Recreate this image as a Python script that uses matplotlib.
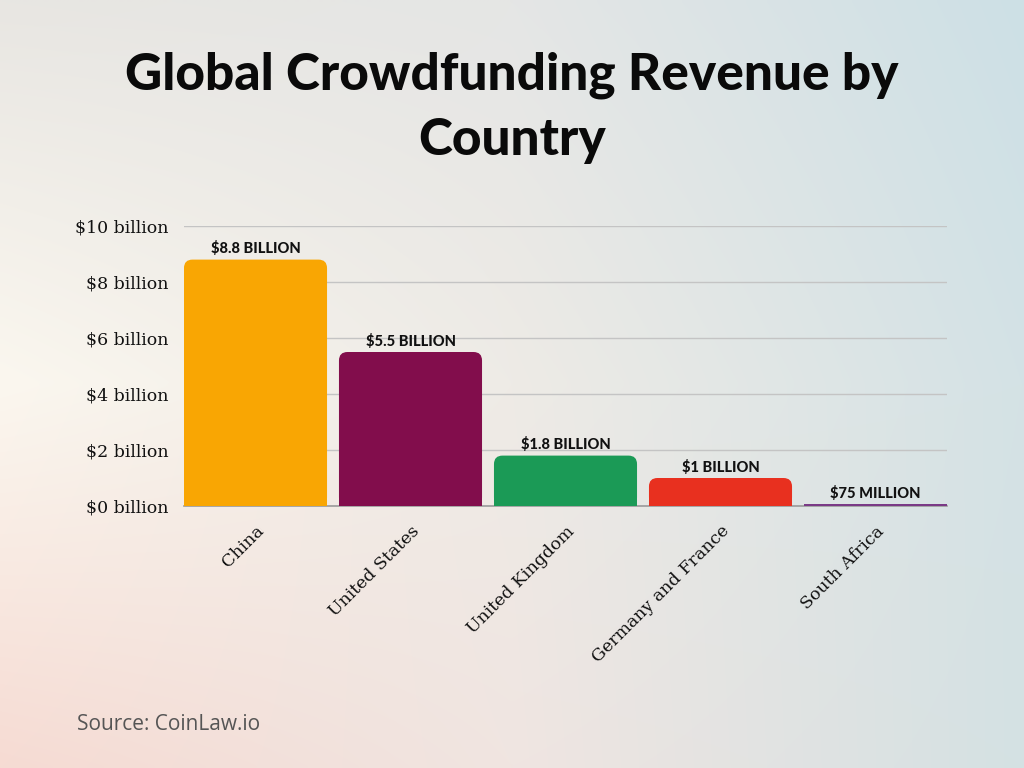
import numpy as np
import matplotlib
matplotlib.use("Agg")
import matplotlib.pyplot as plt
from matplotlib.patches import FancyBboxPatch, Rectangle
from matplotlib.colors import to_rgb

countries = ["China", "United States", "United Kingdom", "Germany and France", "South Africa"]
revenue_billion = [8.8, 5.5, 1.8, 1.0, 0.075]
value_labels = ["$8.8 BILLION", "$5.5 BILLION", "$1.8 BILLION", "$1 BILLION", "$75 MILLION"]
bar_colors = ["#F9A603", "#820D4C", "#1B9A56", "#E8301F", "#7A3A86"]
y_ticks = [0, 2, 4, 6, 8, 10]
y_tick_labels = ["$0 billion", "$2 billion", "$4 billion", "$6 billion", "$8 billion", "$10 billion"]

fig = plt.figure(figsize=(10.24, 7.68), dpi=100)

# background gradient (3x3 control colours, bilinear blend)
bg = fig.add_axes([0, 0, 1, 1], zorder=-10)
grid_cols = [["#e8e6e2", "#e5e6e5", "#cde0e6"],
             ["#fbf7ef", "#eeebe6", "#d4e2e5"],
             ["#f6dbd3", "#f0e5e1", "#d4e1e3"]]
G = np.array([[to_rgb(c) for c in row] for row in grid_cols])
h, w = 192, 256
ys = np.linspace(0, 2, h)
xs = np.linspace(0, 2, w)
img = np.zeros((h, w, 3))
for i, yv in enumerate(ys):
    i0 = min(int(yv), 1); ty = yv - i0
    for j, xv in enumerate(xs):
        j0 = min(int(xv), 1); tx = xv - j0
        c = (G[i0, j0] * (1 - tx) * (1 - ty) + G[i0, j0 + 1] * tx * (1 - ty)
             + G[i0 + 1, j0] * (1 - tx) * ty + G[i0 + 1, j0 + 1] * tx * ty)
        img[i, j] = c
bg.imshow(img, aspect="auto", extent=[0, 1, 0, 1], origin="upper", interpolation="bilinear")
bg.axis("off")

ax = fig.add_axes([184/1024, 1 - 506/768, (947-184)/1024, 280/768])
ax.patch.set_alpha(0)
x = np.arange(len(countries))
width = 0.923
ax.set_xlim(-0.4613, len(countries) - 1 + 0.4613)
ax.set_ylim(0, 10)

bars = ax.bar(x, revenue_billion, width=width, color=bar_colors, zorder=3)
aspect = 155 / 28.0
r = 0.055
for b, c in zip(bars, bar_colors):
    bx, bw, bh = b.get_x(), b.get_width(), b.get_height()
    if bh > 0.5:
        b.set_visible(False)
        ax.add_patch(FancyBboxPatch((bx, 0), bw, bh,
                                    boxstyle=f"round,pad=0,rounding_size={r}",
                                    mutation_aspect=aspect, fc=c, ec="none", zorder=3))
        ax.add_patch(Rectangle((bx, 0), bw, bh / 2, fc=c, ec="none", zorder=3))

for xi, v, lab in zip(x, revenue_billion, value_labels):
    ax.text(xi, v + 0.12, lab, ha="center", va="bottom", fontsize=10.5,
            fontweight="black", family="Lato", color="#111111", zorder=4)

ax.set_yticks(y_ticks)
ax.set_yticklabels(y_tick_labels, family="DejaVu Serif", fontsize=12.5, color="#111111")
ax.tick_params(axis="y", length=0, pad=11)
ax.yaxis.grid(True, color="#c4c4c4", linewidth=1, zorder=0)
ax.set_axisbelow(True)
ax.set_xticks(x)
ax.set_xticklabels(countries, rotation=45, ha="right", rotation_mode="anchor",
                   family="DejaVu Serif", fontsize=12.5, color="#111111")
ax.tick_params(axis="x", length=0, pad=12)
for sp in ["top", "right", "left"]:
    ax.spines[sp].set_visible(False)
ax.spines["bottom"].set_color("#9a9a9a")
ax.spines["bottom"].set_linewidth(1.2)

fig.text(0.5, 1 - 75/768, "Global Crowdfunding Revenue by", ha="center", va="center",
         fontsize=37, fontweight="black", family="Lato", color="#0a0a0a")
fig.text(0.5, 1 - 140/768, "Country", ha="center", va="center",
         fontsize=37, fontweight="black", family="Lato", color="#0a0a0a")
fig.text(77/1024, 1 - 724/768, "Source: CoinLaw.io", ha="left", va="center",
         fontsize=15, family="Open Sans", color="#555555")

fig.savefig("out.png", dpi=100)
